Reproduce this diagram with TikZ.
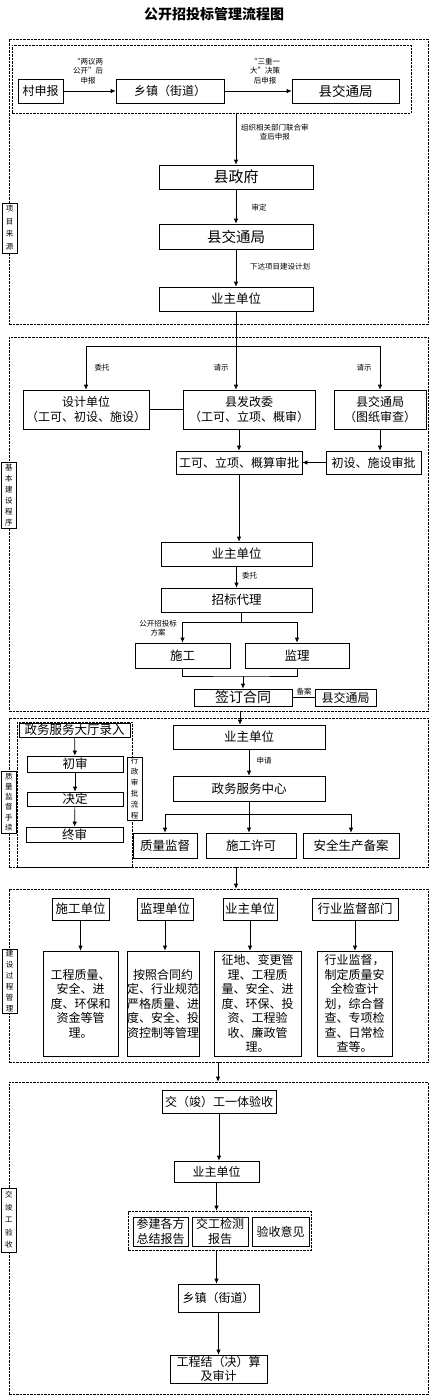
\documentclass[tikz,border=0pt]{standalone}
\usepackage{fontspec}
\setmainfont{Noto Sans CJK SC}
\usetikzlibrary{arrows.meta}
\tikzset{
  box/.style={draw, line width=0.7pt, inner sep=0pt, align=center, font=\fontsize{12}{14.5}\selectfont},
  note/.style={inner sep=0pt, align=center, font=\fontsize{7.5}{9.5}\selectfont},
  side/.style={draw, fill=white, line width=0.7pt, inner sep=0pt, minimum width=15pt, align=center, font=\fontsize{7.5}{#1}\selectfont},
  side/.default=11,
  zone/.style={draw, dash pattern=on 2.5pt off 1pt, line width=0.6pt, inner sep=0pt},
  arr/.style={-{Latex[length=5pt,width=4.5pt]}, line width=0.7pt},
  link/.style={line width=0.7pt},
}
\begin{document}
\begin{tikzpicture}[x=1pt,y=-1pt]
\useasboundingbox (0,0) rectangle (429,1395);
\node[font=\fontsize{14}{16}\selectfont\bfseries] (title) at (214,14) {公开招投标管理流程图};

% 项目来源
\node[zone, minimum width=419, minimum height=285] (sec1) at (218.5,181.5) {};
\node[zone, minimum width=399, minimum height=68] (grp1) at (211.5,79) {};
\node[box, minimum width=45, minimum height=24] (cun) at (40.5,91) {村申报};
\node[box, minimum width=108, minimum height=24] (xz1) at (170,91) {乡镇（街道）};
\node[box, minimum width=107, minimum height=24, font=\fontsize{13.5}{15}\selectfont] (xj1) at (345.5,91) {县交通局};
\node[note] (n1) at (88,71) {“两议两\\公开”后\\申报};
\node[note] (n2) at (265,71) {“三重一\\大”决策\\后申报};
\node[box, minimum width=154, minimum height=24, font=\fontsize{15}{16}\selectfont] (xzf) at (236,177) {县政府};
\node[box, minimum width=154, minimum height=25, font=\fontsize{14.5}{16}\selectfont] (xj2) at (236,236.5) {县交通局};
\node[box, minimum width=154, minimum height=24, font=\fontsize{12.5}{15}\selectfont] (yz1) at (236,299) {业主单位};
\node[note, anchor=west] (n3) at (241,132) {组织相关部门联合审\\查后申报};
\node[note] (n4) at (259,208) {审定};
\node[note] (n5) at (280,267) {下达项目建设计划};
\node[side=12.5, minimum height=50] (s1) at (9.5,228) {项\\目\\来\\源};
\draw[arr] (cun) -- (xz1);
\draw[arr] (xz1) -- (xj1);
\draw[arr] (grp1.south -| xzf.north) -- (xzf.north);
\draw[arr] (xzf) -- (xj2);
\draw[arr] (xj2) -- (yz1);

% 基本建设程序
\node[zone, minimum width=419, minimum height=374] (sec2) at (218.5,524) {};
\node[box, minimum width=126, minimum height=39] (sj) at (86,409.5) {设计单位\\（工可、初设、施设）};
\node[box, minimum width=132, minimum height=39] (fgw) at (249,409.5) {县发改委\\（工可、立项、概审）};
\node[box, minimum width=92, minimum height=39] (xjt) at (380,409.5) {县交通局\\（图纸审查）};
\node[box, minimum width=126, minimum height=23] (gk) at (239,462.5) {工可、立项、概算审批};
\node[box, minimum width=95, minimum height=23] (csp) at (373.5,462.5) {初设、施设审批};
\node[box, minimum width=151, minimum height=24, font=\fontsize{12.5}{15}\selectfont] (yz2) at (236.5,554) {业主单位};
\node[box, minimum width=151, minimum height=24, font=\fontsize{12.5}{15}\selectfont] (zb) at (236.5,600) {招标代理};
\node[box, minimum width=95, minimum height=25, font=\fontsize{12.5}{15}\selectfont] (sg) at (182.5,655.5) {施工};
\node[box, minimum width=104, minimum height=25, font=\fontsize{12.5}{15}\selectfont] (jl) at (297,655.5) {监理};
\node[box, minimum width=98, minimum height=17, font=\fontsize{14}{15}\selectfont] (ht) at (243,697.5) {签订合同};
\node[box, minimum width=61, minimum height=17] (xj3) at (345.5,697.5) {县交通局};
\node[note] (n6) at (102,368) {委托};
\node[note] (n7) at (221,368) {请示};
\node[note] (n8) at (364,368) {请示};
\node[note] (n9) at (249.5,576) {委托};
\node[note] (n10) at (158,628) {公开招投标\\方案};
\node[note] (n11) at (304,692) {备案};
\node[side, minimum height=66] (s2) at (9,495) {基\\本\\建\\设\\程\\序};
\coordinate (b1) at (236,346);
\draw[link] (yz1) -- (b1);
\draw[arr] (b1) -| (sj);
\draw[arr] (b1) -| (xjt);
\draw[arr] (b1) -- (b1 |- fgw.north);
\draw[link] (sj) -- (fgw);
\draw[arr] (gk.north |- fgw.south) -- (gk.north);
\draw[arr] (xjt) -- (xjt |- csp.north);
\draw[arr] (csp) -- (gk);
\draw[arr] (gk) -- (gk |- yz2.north);
\draw[arr] (yz2) -- (zb);
\coordinate (b2) at (241,622);
\draw[link] (zb.south -| b2) -- (b2);
\draw[arr] (b2) -| (sg);
\draw[arr] (b2) -| (jl);
\coordinate (b3) at (243,676);
\draw[link] (sg) |- (b3) -| (jl);
\draw[arr] (b3) -- (ht);
\draw[link] (ht) -- (xj3);

% 质量监督手续
\node[zone, minimum width=419, minimum height=149] (sec3) at (218.5,792.5) {};
\node[zone, minimum width=115, minimum height=145] (grp3) at (74.5,794.5) {};
\node[box, minimum width=111, minimum height=14, font=\fontsize{12.5}{14}\selectfont] (dt) at (74.5,730) {政务服务大厅录入};
\node[box, minimum width=96, minimum height=16, font=\fontsize{12.5}{14}\selectfont] (csh) at (75,764) {初审};
\node[box, minimum width=96, minimum height=14, font=\fontsize{12.5}{14}\selectfont] (jd) at (75,799) {决定};
\node[box, minimum width=97, minimum height=15, font=\fontsize{12.5}{14}\selectfont] (zs) at (74.5,834.5) {终审};
\node[side, minimum height=63] (s3b) at (134.5,788.5) {行\\政\\审\\批\\流\\程};
\node[side=10.3, minimum height=62] (s3) at (9,802) {质\\量\\监\\督\\手\\续};
\node[box, minimum width=152, minimum height=24, font=\fontsize{12.5}{15}\selectfont] (yz3) at (249,737) {业主单位};
\node[box, minimum width=152, minimum height=25, font=\fontsize{12.5}{15}\selectfont] (zw) at (249,788.5) {政务服务中心};
\node[note] (n12) at (264,761) {申请};
\node[box, minimum width=64, minimum height=25, font=\fontsize{12.5}{15}\selectfont] (zl) at (165,845.5) {质量监督};
\node[box, minimum width=90, minimum height=25, font=\fontsize{12.5}{15}\selectfont] (xk) at (251,845.5) {施工许可};
\node[box, minimum width=96, minimum height=25, font=\fontsize{12.5}{15}\selectfont] (aq) at (351,845.5) {安全生产备案};
\coordinate (c23) at (240,711);
\draw[arr] (c23) -- (c23 |- yz3.north);
\draw[arr] (dt) -- (csh);
\draw[arr] (csh) -- (jd);
\draw[arr] (jd) -- (zs);
\draw[arr] (yz3) -- (zw);
\coordinate (b4) at (249,814);
\draw[link] (zw) -- (b4);
\draw[arr] (b4) -| (zl);
\draw[arr] (b4) -| (aq);
\draw[arr] (b4) -- (b4 |- xk.north);

% 建设过程管理
\node[zone, minimum width=419, minimum height=173] (sec4) at (218.5,975.5) {};
\node[box, minimum width=57, minimum height=22, font=\fontsize{12.5}{15}\selectfont] (sgdw) at (80.5,909) {施工单位};
\node[box, minimum width=56, minimum height=22, font=\fontsize{12.5}{15}\selectfont] (jldw) at (165,909) {监理单位};
\node[box, minimum width=54, minimum height=22, font=\fontsize{12.5}{15}\selectfont] (yzdw) at (250,909) {业主单位};
\node[box, minimum width=86, minimum height=22, font=\fontsize{12.5}{15}\selectfont] (hybm) at (355,909) {行业监督部门};
\node[box, minimum width=75, minimum height=105] (t1) at (80.5,1003.5) {工程质量、\\安全、进\\度、环保和\\资金等管\\理。};
\node[box, minimum width=72, minimum height=105] (t2) at (163,1003.5) {按照合同约\\定、行业规范\\严格质量、进\\度、安全、投\\资控制等管理};
\node[box, minimum width=87, minimum height=105] (t3) at (257.5,1003.5) {征地、变更管\\理、工程质\\量、安全、进\\度、环保、投\\资、工程验\\收、廉政管\\理。};
\node[box, minimum width=75, minimum height=105] (t4) at (354.5,1003.5) {行业监督，\\制定质量安\\全检查计\\划，综合督\\查、专项检\\查、日常检\\查等。};
\node[side, minimum height=64] (s4) at (9.5,981) {建\\设\\过\\程\\管\\理};
\coordinate (c34) at (236,867);
\draw[arr] (c34) -- (c34 |- sec4.north);
\draw[arr] (sgdw) -- (sgdw |- t1.north);
\draw[arr] (jldw) -- (jldw |- t2.north);
\draw[arr] (yzdw) -- (yzdw |- t3.north);
\draw[arr] (hybm) -- (hybm |- t4.north);

% 交竣工验收
\node[zone, minimum width=419, minimum height=312] (sec5) at (218.5,1238) {};
\node[box, minimum width=114, minimum height=23] (jg) at (219,1101.5) {交（竣）工一体验收};
\node[box, minimum width=85, minimum height=21] (yz5) at (216.5,1171.5) {业主单位};
\node[zone, minimum width=183, minimum height=39] (grp5) at (219.5,1230.5) {};
\node[box, minimum width=55, minimum height=29] (r1) at (160.5,1231.5) {参建各方\\总结报告};
\node[box, minimum width=56, minimum height=29] (r2) at (220,1231.5) {交工检测\\报告};
\node[box, minimum width=57, minimum height=29] (r3) at (280.5,1231.5) {验收意见};
\node[box, minimum width=81, minimum height=28] (xz5) at (218.5,1298) {乡镇（街道）};
\node[box, minimum width=97, minimum height=28] (js) at (218.5,1369) {工程结（决）算\\及审计};
\node[side=12.5, minimum height=64] (s5) at (9,1220) {交\\竣\\工\\验\\收};
\coordinate (c45) at (218,1062);
\draw[arr] (c45) -- (c45 |- sec5.north);
\draw[arr] (jg) -- (jg |- yz5.north);
\draw[arr] (yz5) -- (yz5 |- grp5.north);
\draw[arr] (grp5.south -| yz5) -- (yz5 |- xz5.north);
\draw[arr] (xz5) -- (js);
\end{tikzpicture}
\end{document}
